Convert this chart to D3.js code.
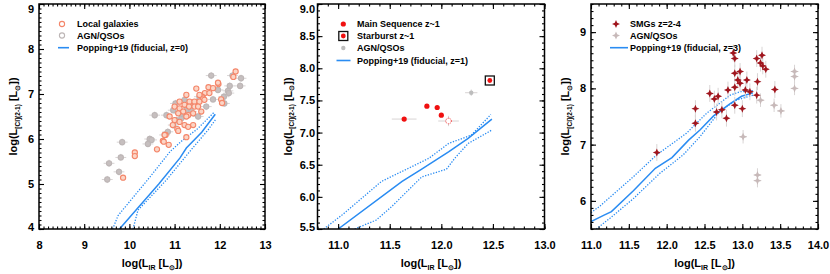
<!DOCTYPE html>
<html>
<head>
<meta charset="utf-8">
<script src="https://cdn.jsdelivr.net/npm/d3@7"></script>
<style>
  body { margin: 0; background: #fff; }
  svg { font-family: "Liberation Sans", Arial, sans-serif; font-weight: bold; }
</style>
</head>
<body>
<svg id="chart" width="830" height="274"></svg>
<script>
// ---- panel 1 : z = 0 ----
const local0 = [[12.35,7.50],[12.30,7.38],[11.97,7.22],[11.96,7.25],[11.75,7.15],[11.85,7.13],[11.48,7.12],
  [12.03,6.88],[12.05,6.80],[11.67,7.02],[11.77,7.02],[11.61,6.94],[11.63,6.90],[11.55,6.98],[11.26,6.98],
  [11.11,6.83],[11.33,6.83],[11.44,6.83],[11.55,6.83],[11.66,6.87],[11.00,6.72],[11.22,6.76],[11.32,6.72],
  [11.44,6.72],[11.52,6.72],[11.11,6.68],[11.19,6.61],[11.41,6.57],[11.59,6.61],[11.08,6.57],[11.30,6.53],
  [10.89,6.50],[11.26,6.50],[11.00,6.42],[11.11,6.38],[10.96,6.31],[11.22,6.31],[11.41,6.31],[11.30,6.27],
  [11.06,6.22],[11.08,6.18],[10.80,6.09],[10.78,6.09],[11.26,6.04],[10.74,5.96],[10.76,5.94],[10.87,5.87],
  [10.61,5.77],[10.12,5.70],[10.12,5.62],[9.86,5.14]];
const agn0 = [[11.81,7.41],[12.28,7.41],[12.47,7.35],[12.22,7.18],[12.45,7.18],[12.18,7.07],[12.20,7.02],
  [11.96,7.09],[12.09,6.94],[12.10,6.79],[11.85,6.88],[11.55,6.94],[11.70,6.72],[11.55,6.87],[11.22,6.87],
  [11.02,6.79],[11.35,6.78],[11.26,6.64],[10.97,6.64],[11.37,6.61],[11.11,6.57],[11.52,6.50],[11.15,6.46],
  [11.04,6.42],[10.97,6.31],[10.85,6.16],[10.78,6.09],[11.15,6.56],[10.56,6.53],[10.82,6.53],[10.45,6.00],
  [10.49,5.98],[10.41,5.89],[9.84,5.93],[9.81,5.59],[9.55,5.46],[9.77,5.27],[9.51,5.10]];
const model0 = [[9.78,4.0],[10.65,5.0],[11.12,5.58],[11.26,5.80],[11.60,6.15],[11.90,6.55]];
const model0Hi = [[9.63,4.0],[9.75,4.30],[10.45,5.15],[10.90,5.72],[11.15,5.95],[11.50,6.22],[11.88,6.60]];
const model0Lo = [[10.08,4.0],[10.19,4.42],[10.82,5.09],[11.30,5.68],[11.40,5.80],[11.74,6.20],[11.92,6.45]];

// ---- panel 2 : z ~ 1 ----
const ms1 = [[11.64,7.21],[11.86,7.41],[11.96,7.39],[12.00,7.27]];
const ms1Err = [0.12, 0, 0, 0];
const ms1Open = [[12.07,7.18]];
const sb1 = [[12.47,7.81]];
const agn1 = [[12.29,7.62]];
const model1 = [[11.00,5.50],[11.62,6.24],[11.81,6.43],[12.07,6.70],[12.26,6.91],[12.49,7.21]];
const model1Hi = [[10.86,5.50],[11.04,5.72],[11.42,6.24],[11.65,6.42],[11.88,6.60],[12.07,6.83],[12.29,6.96],[12.48,7.28]];
const model1Lo = [[11.16,5.50],[11.37,5.64],[11.52,5.85],[11.81,6.31],[12.05,6.43],[12.13,6.60],[12.26,6.83],[12.49,7.04]];

// ---- panel 3 : z = 2-4 ----
const smg3 = [[12.88,8.63],[12.90,8.53],[13.19,8.53],[13.26,8.59],[13.24,8.45],[13.27,8.40],[13.31,8.34],
  [12.90,8.27],[12.97,8.30],[12.94,8.15],[12.97,8.09],[13.06,8.15],[12.90,8.02],[13.20,8.12],[12.57,7.91],
  [12.63,7.81],[12.68,7.86],[12.81,7.97],[13.04,7.97],[13.10,7.94],[13.19,7.88],[13.43,7.98],[12.90,7.70],
  [13.00,7.64],[12.66,7.58],[12.73,7.62],[12.38,7.64],[12.38,7.38],[12.79,7.47],[11.87,6.86]];
const agn3 = [[13.69,8.30],[13.69,8.21],[13.69,8.00],[13.42,7.70],[13.51,7.60],[13.24,7.79],[13.01,7.14],
  [13.20,6.46],[13.20,6.36]];
const model3 = [[11.00,5.63],[11.18,5.75],[11.27,5.81],[11.56,6.18],[11.85,6.58],[12.07,6.77],[12.29,7.08],
  [12.44,7.26],[12.62,7.51],[12.84,7.73],[12.99,7.86],[13.14,7.92]];
const model3Hi = [[11.00,5.79],[11.12,5.91],[11.56,6.43],[11.87,6.82],[12.26,7.20],[12.53,7.56],[12.84,7.88],
  [12.97,7.94],[13.14,7.96]];
const model3Lo = [[11.07,5.50],[11.25,5.69],[11.56,6.04],[11.91,6.49],[12.22,6.82],[12.44,7.14],[12.70,7.59],
  [12.92,7.79],[13.14,7.88]];

const svg = d3.select('#chart');
const yTop = 4, yBot = 229;
const blue = '#2a8cf2';
const errCol = '#d8d4d4';

const steps = (lo, hi, s) => d3.range(Math.ceil(lo / s - 1e-6), Math.floor(hi / s + 1e-6) + 1).map(i => i * s);

function star(s) {
  return `M0,${-s}L${s*0.3},${-s*0.3}L${s},0L${s*0.3},${s*0.3}L0,${s}L${-s*0.3},${s*0.3}L${-s},0L${-s*0.3},${-s*0.3}Z`;
}

// draw one marker type at (cx, cy)
function marker(g, type, cx, cy, legend) {
  if (type === 'ring') {
    g.append('circle').attr('cx', cx).attr('cy', cy).attr('r', 2.6)
      .attr('fill', legend ? '#fff' : '#fbd5c6').attr('stroke', '#f4866a').attr('stroke-width', 1.1);
  } else if (type === 'grey') {
    g.append('circle').attr('cx', cx).attr('cy', cy).attr('r', 2.6)
      .attr('fill', legend ? '#fff' : '#c6bfbf').attr('stroke', '#bdb6b6').attr('stroke-width', 1.1);
  } else if (type === 'red') {
    g.append('circle').attr('cx', cx).attr('cy', cy).attr('r', 2.6).attr('fill', '#f01010');
  } else if (type === 'redOpen') {
    g.append('circle').attr('cx', cx).attr('cy', cy).attr('r', 2.8).attr('fill', '#fff')
      .attr('stroke', '#f01010').attr('stroke-width', 0.9).attr('stroke-dasharray', '1,1');
  } else if (type === 'sb') {
    g.append('rect').attr('x', cx - 4.5).attr('y', cy - 4.5).attr('width', 9).attr('height', 9)
      .attr('fill', '#fff').attr('stroke', '#111').attr('stroke-width', 1.3);
    g.append('circle').attr('cx', cx).attr('cy', cy).attr('r', 2.4).attr('fill', '#f01010');
  } else if (type === 'greyDot') {
    g.append('circle').attr('cx', cx).attr('cy', cy).attr('r', 2.2).attr('fill', '#bdbdbd');
  } else if (type === 'smg') {
    g.append('path').attr('transform', `translate(${cx},${cy})`).attr('d', star(4)).attr('fill', '#a0151d');
  } else if (type === 'greyStar') {
    g.append('path').attr('transform', `translate(${cx},${cy})`).attr('d', star(4)).attr('fill', '#c7b9b9');
  }
}

function panel(cfg) {
  const g = svg.append('g');
  const x = d3.scaleLinear().domain(cfg.xDom).range([cfg.x0, cfg.x1]);
  const y = d3.scaleLinear().domain(cfg.yDom).range([yBot, yTop]);
  const clipId = 'clip' + cfg.id;
  g.append('clipPath').attr('id', clipId).append('rect')
    .attr('x', cfg.x0).attr('y', yTop).attr('width', cfg.x1 - cfg.x0).attr('height', yBot - yTop);
  const plot = g.append('g').attr('clip-path', `url(#${clipId})`);

  // model lines
  const line = d3.line().x(d => x(d[0])).y(d => y(d[1]));
  [[cfg.hi, true], [cfg.lo, true], [cfg.model, false]].forEach(([pts, dotted]) => {
    plot.append('path').attr('d', line(pts)).attr('fill', 'none').attr('stroke', blue)
      .attr('stroke-width', dotted ? 1.3 : 1.5).attr('stroke-dasharray', dotted ? '1.3,1.5' : null);
  });

  // data series: error bars then markers
  cfg.series.forEach(s => {
    s.data.forEach((d, i) => {
      const xe = s.xerr ? (Array.isArray(s.xerr) ? s.xerr[i] : s.xerr) : 0;
      const ye = s.yerr ? (Array.isArray(s.yerr) ? s.yerr[i] : s.yerr) : 0;
      if (xe) plot.append('line').attr('x1', x(d[0] - xe)).attr('x2', x(d[0] + xe))
        .attr('y1', y(d[1])).attr('y2', y(d[1])).attr('stroke', errCol).attr('stroke-width', 1);
      if (ye) plot.append('line').attr('x1', x(d[0])).attr('x2', x(d[0]))
        .attr('y1', y(d[1] - ye)).attr('y2', y(d[1] + ye)).attr('stroke', errCol).attr('stroke-width', 1);
    });
    s.data.forEach(d => marker(plot, s.type, x(d[0]), y(d[1]), false));
  });

  // axes: major + minor ticks inward on all four sides
  const styleAxis = sel => {
    sel.select('.domain').remove();
    sel.selectAll('line').attr('stroke', '#000').attr('stroke-width', 1.1);
    sel.attr('font-family', null).attr('font-size', 11).selectAll('text').attr('fill', '#000');
  };
  const xMaj = steps(cfg.xDom[0], cfg.xDom[1], cfg.xStep);
  const yMaj = steps(cfg.yDom[0], cfg.yDom[1], cfg.yStep);
  const xMin = steps(cfg.xDom[0], cfg.xDom[1], cfg.xMinor);
  const yMin = steps(cfg.yDom[0], cfg.yDom[1], cfg.yMinor);

  g.append('g').attr('transform', `translate(0,${yBot})`)
    .call(d3.axisBottom(x).tickValues(xMaj).tickSize(-5).tickPadding(12).tickFormat(d3.format(cfg.xFmt))).call(styleAxis);
  g.append('g').attr('transform', `translate(0,${yBot})`)
    .call(d3.axisBottom(x).tickValues(xMin).tickSize(-2.5).tickFormat('')).call(styleAxis);
  g.append('g').attr('transform', `translate(0,${yTop})`)
    .call(d3.axisTop(x).tickValues(xMaj).tickSize(-5).tickFormat('')).call(styleAxis);
  g.append('g').attr('transform', `translate(0,${yTop})`)
    .call(d3.axisTop(x).tickValues(xMin).tickSize(-2.5).tickFormat('')).call(styleAxis);

  const left = g.append('g').attr('transform', `translate(${cfg.x0},0)`)
    .call(d3.axisLeft(y).tickValues(yMaj).tickSize(-5).tickPadding(cfg.yPad).tickFormat(d3.format(cfg.yFmt))).call(styleAxis);
  // labels at the edges are pushed inside the frame
  left.selectAll('.tick').each(function (v) {
    const py = y(v);
    let shift = 0;
    if (py - yTop < 5) shift = 9.3 - py;
    else if (yBot - py < 4) shift = 226.5 - py;
    d3.select(this).select('text').attr('y', shift);
  });
  g.append('g').attr('transform', `translate(${cfg.x0},0)`)
    .call(d3.axisLeft(y).tickValues(yMin).tickSize(-2.5).tickFormat('')).call(styleAxis);
  g.append('g').attr('transform', `translate(${cfg.x1},0)`)
    .call(d3.axisRight(y).tickValues(yMaj).tickSize(-5).tickFormat('')).call(styleAxis);
  g.append('g').attr('transform', `translate(${cfg.x1},0)`)
    .call(d3.axisRight(y).tickValues(yMin).tickSize(-2.5).tickFormat('')).call(styleAxis);

  g.append('rect').attr('x', cfg.x0).attr('y', yTop).attr('width', cfg.x1 - cfg.x0).attr('height', yBot - yTop)
    .attr('fill', 'none').attr('stroke', '#000').attr('stroke-width', 1.5);

  // axis titles
  const xt = g.append('text').attr('x', (cfg.x0 + cfg.x1) / 2).attr('y', 267)
    .attr('text-anchor', 'middle').attr('font-size', 11);
  xt.append('tspan').text('log(L');
  xt.append('tspan').attr('font-size', 7).attr('dy', 2.5).text('IR');
  xt.append('tspan').attr('dy', -2.5).text(' [L');
  xt.append('tspan').attr('font-size', 7).attr('dy', 2.5).text('⊙');
  xt.append('tspan').attr('dy', -2.5).text('])');

  const yt = g.append('text').attr('transform', `translate(${cfg.x0 - cfg.yTitleOff},${(yTop + yBot) / 2}) rotate(-90)`)
    .attr('text-anchor', 'middle').attr('font-size', 11);
  yt.append('tspan').text('log(L');
  yt.append('tspan').attr('font-size', 6.5).attr('dy', 2.5).text('[CI](2-1)');
  yt.append('tspan').attr('dy', -2.5).text(' [L');
  yt.append('tspan').attr('font-size', 7).attr('dy', 2.5).text('⊙');
  yt.append('tspan').attr('dy', -2.5).text('])');

  // legend
  cfg.legend.forEach((e, i) => {
    const ly = cfg.legY[i];
    if (e.type === 'line') {
      g.append('line').attr('x1', cfg.legLine[0]).attr('x2', cfg.legLine[1]).attr('y1', ly).attr('y2', ly)
        .attr('stroke', blue).attr('stroke-width', 1.6);
    } else {
      marker(g, e.type, cfg.legSym, ly, true);
    }
    g.append('text').attr('x', cfg.legText).attr('y', ly + 3.2).attr('font-size', 9).text(e.label);
  });
}

panel({
  id: 1, x0: 39, x1: 265, xDom: [8, 13], yDom: [4, 9],
  xStep: 1, xMinor: 0.1, yStep: 1, yMinor: 0.1, xFmt: 'd', yFmt: 'd', yPad: 5, yTitleOff: 22,
  model: model0, hi: model0Hi, lo: model0Lo,
  series: [
    { data: agn0, type: 'grey', xerr: 0.12, yerr: 0.08 },
    { data: local0, type: 'ring', yerr: 0.06 }
  ],
  legend: [{ type: 'ring', label: 'Local galaxies' }, { type: 'grey', label: 'AGN/QSOs' },
    { type: 'line', label: 'Popping+19 (fiducial, z=0)' }],
  legY: [24, 35.5, 47.7], legSym: 62, legText: 77, legLine: [58, 69]
});

panel({
  id: 2, x0: 317.5, x1: 544.5, xDom: [10.8, 13.0], yDom: [5.5, 9.0],
  xStep: 0.5, xMinor: 0.1, yStep: 0.5, yMinor: 0.1, xFmt: '.1f', yFmt: '.1f', yPad: 2.5, yTitleOff: 26,
  model: model1, hi: model1Hi, lo: model1Lo,
  series: [
    { data: agn1, type: 'greyDot', xerr: 0.06, yerr: 0.05 },
    { data: ms1, type: 'red', xerr: ms1Err },
    { data: ms1Open, type: 'redOpen', xerr: 0.1, yerr: 0.08 },
    { data: sb1, type: 'sb' }
  ],
  legend: [{ type: 'red', label: 'Main Sequence z~1' }, { type: 'sb', label: 'Starburst z~1' },
    { type: 'greyDot', label: 'AGN/QSOs' }, { type: 'line', label: 'Popping+19 (fiducial, z=1)' }],
  legY: [24, 36, 48, 60.5], legSym: 343.3, legText: 357, legLine: [336.5, 350.5]
});

panel({
  id: 3, x0: 591, x1: 818, xDom: [11, 14], yDom: [5.5, 9.5],
  xStep: 0.5, xMinor: 0.1, yStep: 1, yMinor: 0.125, xFmt: '.1f', yFmt: 'd', yPad: 5, yTitleOff: 22,
  model: model3, hi: model3Hi, lo: model3Lo,
  series: [
    { data: agn3, type: 'greyStar', xerr: 0.05, yerr: 0.12 },
    { data: smg3, type: 'smg', xerr: 0.04, yerr: 0.15 }
  ],
  legend: [{ type: 'smg', label: 'SMGs z=2-4' }, { type: 'greyStar', label: 'AGN/QSOs' },
    { type: 'line', label: 'Popping+19 (fiducial, z=3)' }],
  legY: [24, 35.5, 47.7], legSym: 616, legText: 630, legLine: [610, 628]
});
</script>
</body>
</html>
